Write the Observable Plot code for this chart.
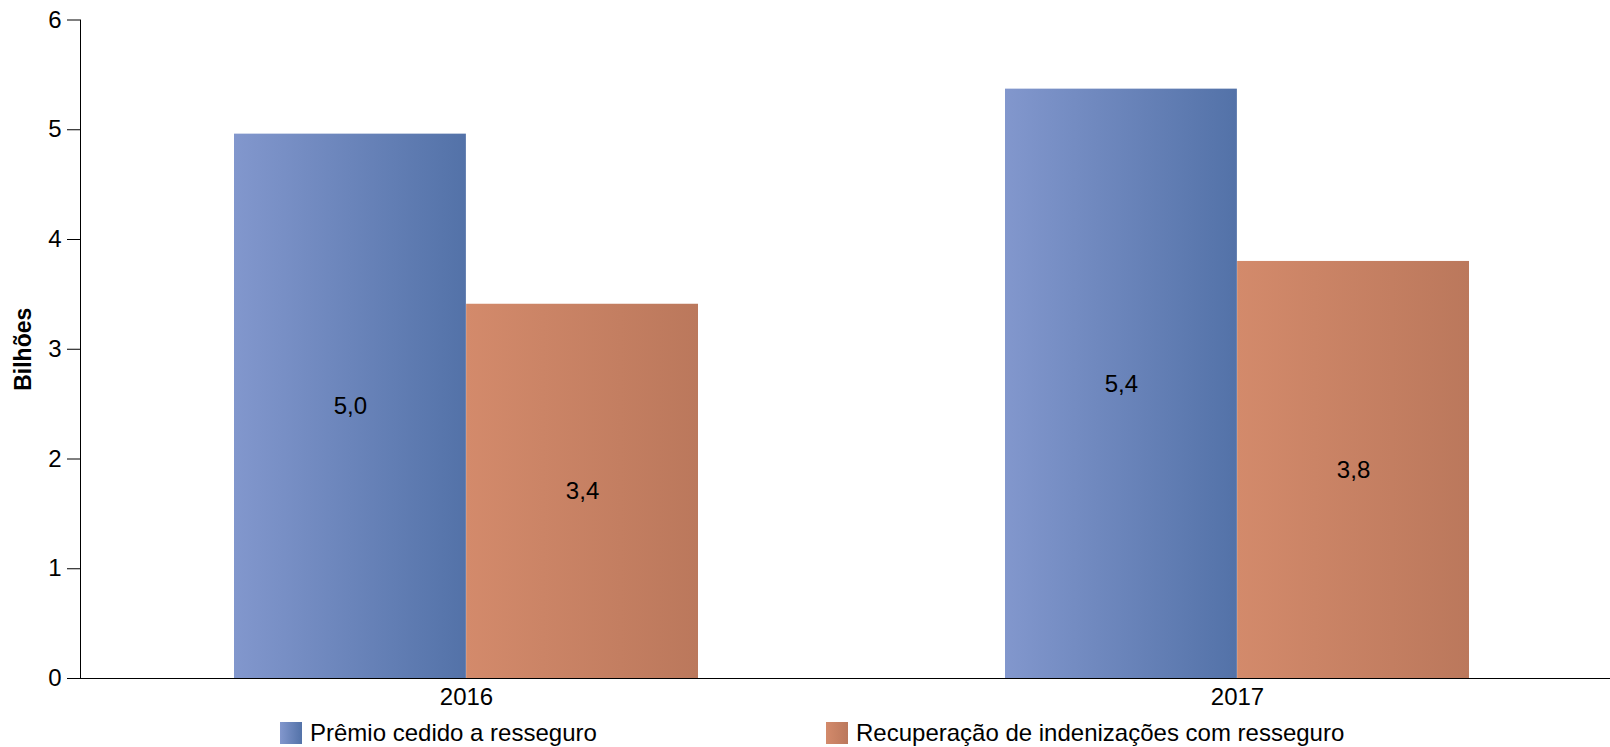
<!DOCTYPE html>
<html>
<head>
<meta charset="utf-8">
<script src="https://cdn.jsdelivr.net/npm/d3@7"></script>
<script src="https://cdn.jsdelivr.net/npm/@observablehq/plot@0.6"></script>
<style>
  html, body { margin: 0; padding: 0; background: #fff; }
  body { width: 1610px; height: 747px; overflow: hidden; font-family: "Liberation Sans", Arial, sans-serif; }
  #chart svg { display: block; }
  g[aria-label="y-axis label"] text { font-weight: bold; font-size: 23px; }
  .legend { display: flex; padding-left: 280px; margin-top: 8px; font-size: 24px; line-height: 26px; color: #000; }
  .legend .item { display: flex; align-items: center; }
  .legend .item:first-child { width: 546px; }
  .legend .sw { width: 22px; height: 22px; margin-right: 8px; }
</style>
</head>
<body>
<div id="chart"></div>
<script>
// ---- data ----
const years = ["2016", "2017"];
const seriesNames = ["Prêmio cedido a resseguro", "Recuperação de indenizações com resseguro"];
const premioCedido = [4.96, 5.37];
const recuperacao = [3.41, 3.80];
const yTicks = [0, 1, 2, 3, 4, 5, 6];
const yLabel = "Bilhões";

// ---- layout / style ----
const W = 1610, H = 712;
const mL = 80, mR = 0, mT = 19.5, mB = 34;
const pIn = 0.398, pOut = 0.191, align = 0.522;
const gradients = [
  {id: "gBlue", from: "#8297cd", to: "#5372a8"},
  {id: "gOrange", from: "#d38a6b", to: "#bb785c"}
];

const rowsA = years.map((y, i) => ({year: y, series: seriesNames[0], value: premioCedido[i]}));
const rowsB = years.map((y, i) => ({year: y, series: seriesNames[1], value: recuperacao[i]}));

const bw = d3.scaleBand().domain(years).range([mL, W - mR])
  .paddingInner(pIn).paddingOuter(pOut).align(align).bandwidth();
const half = bw / 2;
const fmt = v => d3.format(".1f")(v).replace(".", ",");

const plot = Plot.plot({
  width: W, height: H,
  marginLeft: mL, marginRight: mR, marginTop: mT, marginBottom: mB,
  style: {fontFamily: '"Liberation Sans", Arial, sans-serif', fontSize: "24px", color: "#000", background: "#fff"},
  x: {type: "band", domain: years, paddingInner: pIn, paddingOuter: pOut, align: align},
  y: {domain: [0, 6]},
  marks: [
    Plot.barY(rowsA, {x: "year", y: "value", fill: "url(#gBlue)", insetRight: half}),
    Plot.barY(rowsB, {x: "year", y: "value", fill: "url(#gOrange)", insetLeft: half}),
    Plot.text(rowsA, {x: "year", y: d => d.value / 2, text: d => fmt(d.value), dx: -half / 2, fill: "#000", fontSize: 24}),
    Plot.text(rowsB, {x: "year", y: d => d.value / 2, text: d => fmt(d.value), dx: half / 2, fill: "#000", fontSize: 24}),
    Plot.axisY(yTicks, {tickSize: 13, tickPadding: 6, label: yLabel, labelAnchor: "center", labelArrow: "none", labelOffset: 66, tickFormat: d => String(d), stroke: "#000"}),
    Plot.axisX({tickSize: 0, tickPadding: 9, label: null}),
    Plot.frame({anchor: "left", stroke: "#000"}),
    Plot.frame({anchor: "bottom", stroke: "#000"})
  ]
});

// gradient definitions
const ns = "http://www.w3.org/2000/svg";
const defs = document.createElementNS(ns, "defs");
for (const g of gradients) {
  const lg = document.createElementNS(ns, "linearGradient");
  lg.setAttribute("id", g.id);
  lg.setAttribute("x1", "0"); lg.setAttribute("x2", "1");
  lg.setAttribute("y1", "0"); lg.setAttribute("y2", "0");
  [[0, g.from], [1, g.to]].forEach(([o, c]) => {
    const s = document.createElementNS(ns, "stop");
    s.setAttribute("offset", o); s.setAttribute("stop-color", c);
    lg.appendChild(s);
  });
  defs.appendChild(lg);
}
plot.insertBefore(defs, plot.firstChild);
document.getElementById("chart").appendChild(plot);

// legend
const legend = document.createElement("div");
legend.className = "legend";
seriesNames.forEach((name, i) => {
  const g = gradients[i];
  const item = document.createElement("div");
  item.className = "item";
  const sw = document.createElement("span");
  sw.className = "sw";
  sw.style.background = `linear-gradient(to right, ${g.from}, ${g.to})`;
  const t = document.createElement("span");
  t.textContent = name;
  item.appendChild(sw); item.appendChild(t);
  legend.appendChild(item);
});
document.getElementById("chart").appendChild(legend);
</script>
</body>
</html>
